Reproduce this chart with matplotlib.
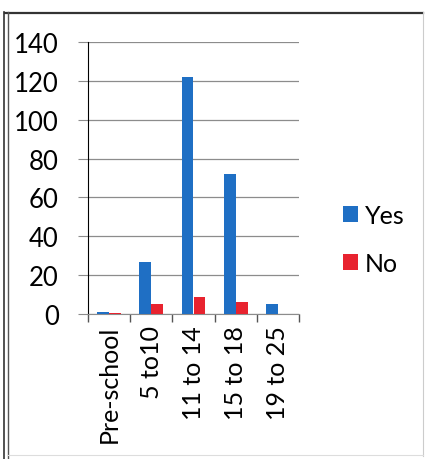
import numpy as np
import matplotlib.pyplot as plt
from matplotlib.lines import Line2D

categories = ['Pre-school', '5 to10', '11 to 14', '15 to 18', '19 to 25']
yes_vals = [1, 27, 122, 72, 5]
no_vals = [0.5, 5, 9, 6, 0]
y_ticks = [0, 20, 40, 60, 80, 100, 120, 140]

blue = '#1f6fc4'
red = '#e8232f'

plt.rcParams['font.family'] = ['Lato', 'DejaVu Sans']

fig = plt.figure(figsize=(4.26, 4.60), dpi=100)
ax = fig.add_axes([88 / 426, 1 - 315 / 460, 211 / 426, 272 / 460])

x = np.arange(len(categories))
w = 0.28
ax.bar(x - w / 2, yes_vals, w, color=blue, label='Yes', zorder=3)
ax.bar(x + w / 2, no_vals, w, color=red, label='No', zorder=3)

ax.set_xlim(-0.5, len(categories) - 0.5)
ax.set_ylim(0, 140)
ax.set_yticks(y_ticks)
ax.set_yticklabels([str(t) for t in y_ticks], fontsize=18.5)
ax.yaxis.grid(True, color='#8c8c8c', linewidth=0.9, zorder=0)
ax.tick_params(axis='y', length=7, color='#8c8c8c', pad=14)

# category ticks on the boundaries, labels at the centres
ax.set_xticks(np.arange(len(categories) + 1) - 0.5)
ax.set_xticklabels([])
ax.set_xticks(x, minor=True)
ax.set_xticklabels(categories, minor=True, rotation=90, fontsize=18)
ax.tick_params(axis='x', which='major', length=6, color='#555555', width=1)
ax.tick_params(axis='x', which='minor', length=0, pad=8)

for s in ['top', 'right']:
    ax.spines[s].set_visible(False)
ax.spines['left'].set_color('black')
ax.spines['bottom'].set_color('#8c8c8c')

ax.legend(loc='center left', bbox_to_anchor=(1.10, 0.275), frameon=False,
          fontsize=18, handlelength=0.6, handleheight=0.6, handletextpad=0.3,
          labelspacing=1.0)

# outer frame like the source screenshot
fig.add_artist(Line2D([5 / 426, 423 / 426], [1 - 13.5 / 460] * 2, color='#333333', lw=1.6))
fig.add_artist(Line2D([3.5 / 426] * 2, [1 - 13 / 460, 0], color='#333333', lw=1.2))
fig.add_artist(Line2D([7.5 / 426] * 2, [1 - 13 / 460, 0], color='#555555', lw=1.0))
fig.add_artist(Line2D([423 / 426] * 2, [1 - 13 / 460, 1 - 457 / 460], color='#cccccc', lw=0.8))
fig.add_artist(Line2D([8 / 426, 423 / 426], [1 - 456 / 460] * 2, color='#dddddd', lw=0.8))

fig.savefig('out.png', dpi=100)
